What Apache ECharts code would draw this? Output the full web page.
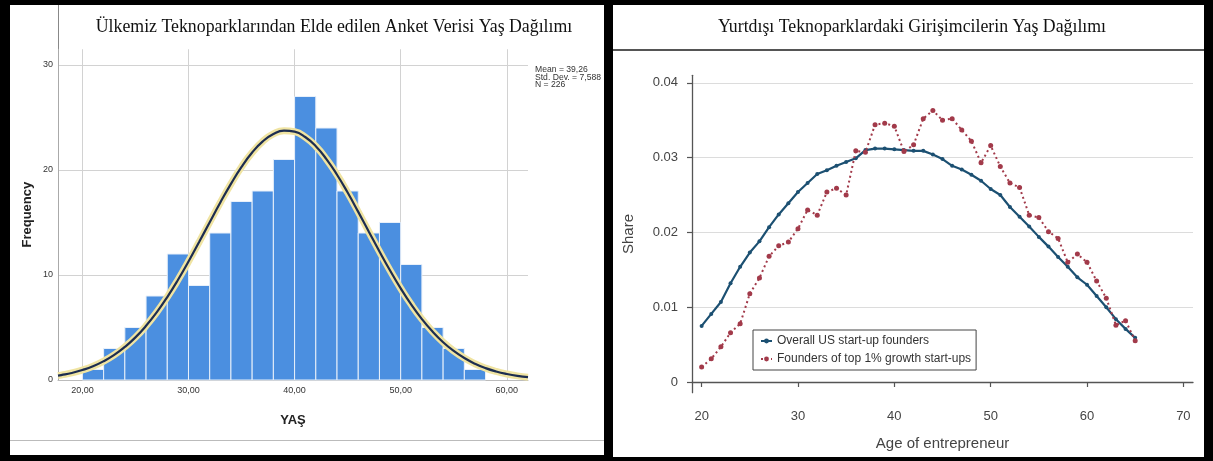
<!DOCTYPE html>
<html><head><meta charset="utf-8">
<script src="https://cdn.jsdelivr.net/npm/echarts@6/dist/echarts.min.js"></script>
<style>
html,body{margin:0;padding:0;background:#000;width:1213px;height:461px;overflow:hidden;}
.panel{position:absolute;background:#fff;}
.ln{position:absolute;}
#chart{position:absolute;left:0;top:0;width:1213px;height:461px;}
</style></head><body>
<div class="panel" style="left:10px;top:5px;width:594px;height:450px"></div>
<div class="panel" style="left:613px;top:5px;width:591px;height:452px"></div>
<div class="ln" style="left:58px;top:5px;width:1px;height:45px;background:#888"></div>
<div class="ln" style="left:10px;top:440px;width:594px;height:1px;background:#bbb"></div>
<div class="ln" style="left:613px;top:49px;width:591px;height:2px;background:#555"></div>
<div id="chart"></div>
<script>
// ---- Left: histogram of ages (YAŞ) ----
const binLo  = [20,22,24,26,28,30,32,34,36,38,40,42,44,46,48,50,52,54,56];
const binHi  = [22,24,26,28,30,32,34,36,38,40,42,44,46,48,50,52,54,56,58];
const counts = [1,3,5,8,12,9,14,17,18,21,27,24,18,14,15,11,5,3,1];
// normal curve
const curveX = [17.7,18,19,20,21,22,23,24,25,26,27,28,29,30,31,32,33,34,35,36,37,38,39,40,41,42,43,44,45,46,47,48,49,50,51,52,53,54,55,56,57,58,59,60,61,62];
const curveY = [0.42,0.47,0.67,0.95,1.31,1.79,2.39,3.15,4.06,5.16,6.44,7.90,9.52,11.28,13.14,15.03,16.91,18.68,20.30,21.66,22.73,23.43,23.75,23.65,23.14,22.26,21.04,19.55,17.85,16.01,14.12,12.24,10.43,8.73,7.18,5.80,4.61,3.60,2.77,2.09,1.55,1.13,0.81,0.57,0.39,0.27];
const xTicksLeft = [20,30,40,50,60];
const yTicksLeft = [0,10,20,30];
const statsLines = ['Mean = 39,26','Std. Dev. = 7,588','N = 226'];

// ---- Right: share by age of entrepreneur ----
const ages = [20,21,22,23,24,25,26,27,28,29,30,31,32,33,34,35,36,37,38,39,40,41,42,43,44,45,46,47,48,49,50,51,52,53,54,55,56,57,58,59,60,61,62,63,64,65];
const overallShare = [0.0075,0.0091,0.0107,0.0132,0.0154,0.0173,0.0188,0.0207,0.0224,0.0239,0.0254,0.0266,0.0278,0.0283,0.0289,0.0294,0.0299,0.0310,0.0312,0.0312,0.0311,0.0310,0.0309,0.0309,0.0304,0.0298,0.0289,0.0284,0.0277,0.0269,0.0258,0.0250,0.0234,0.0221,0.0208,0.0194,0.0181,0.0167,0.0154,0.0140,0.0130,0.0115,0.0100,0.0084,0.0071,0.0059];
const top1Share = [0.0020,0.0031,0.0047,0.0066,0.0078,0.0118,0.0139,0.0168,0.0182,0.0187,0.0205,0.0230,0.0223,0.0254,0.0259,0.0250,0.0309,0.0307,0.0344,0.0346,0.0342,0.0308,0.0317,0.0352,0.0363,0.0350,0.0352,0.0337,0.0322,0.0293,0.0316,0.0288,0.0266,0.0260,0.0223,0.0220,0.0201,0.0192,0.0160,0.0171,0.0160,0.0135,0.0112,0.0076,0.0082,0.0055];
const xTicksRight = [20,30,40,50,60,70];
const yTicksRight = [0,0.01,0.02,0.03,0.04];
const seriesNames = ['Overall US start-up founders','Founders of top 1% growth start-ups'];

const chart = echarts.init(document.getElementById('chart'), null, {renderer:'canvas'});
const SANS = 'Liberation Sans';
chart.setOption({
  backgroundColor: 'transparent',
  animation: false,
  title: [
    {text:'Ülkemiz Teknoparklarından Elde edilen Anket Verisi Yaş Dağılımı', left:334, top:18, textAlign:'center', padding:0,
     textStyle:{fontFamily:'Liberation Serif', fontSize:17.8, fontWeight:'normal', color:'#111'}},
    {text:'Yurtdışı Teknoparklardaki Girişimcilerin Yaş Dağılımı', left:912, top:18, textAlign:'center', padding:0,
     textStyle:{fontFamily:'Liberation Serif', fontSize:17.8, fontWeight:'normal', color:'#111'}},
    {text: statsLines.join('\n'), left:535, top:66, padding:0,
     textStyle:{fontFamily:SANS, fontSize:8.6, lineHeight:7.6, fontWeight:'normal', color:'#333'}}
  ],
  grid: [
    {left:58, top:49.25, width:470, height:330.75},
    {left:692, top:75.3, width:501, height:317.4}
  ],
  xAxis: [
    {gridIndex:0, type:'value', min:17.7, max:62,
     axisLine:{show:true, lineStyle:{color:'#bbb', width:1}},
     axisTick:{show:false, customValues:xTicksLeft},
     axisLabel:{customValues:xTicksLeft, formatter:v=>v.toFixed(2).replace('.',','), fontFamily:SANS, fontSize:9, color:'#333', margin:6},
     splitLine:{show:true, lineStyle:{color:'#d2d2d2', width:1}},
     name:'YAŞ', nameLocation:'middle', nameGap:34,
     nameTextStyle:{fontFamily:SANS, fontSize:13, fontWeight:'bold', color:'#222'}},
    {gridIndex:1, type:'value', min:19, max:71,
     axisLine:{show:true, lineStyle:{color:'#555', width:1.3}},
     axisTick:{show:true, customValues:xTicksRight, length:5, lineStyle:{color:'#555', width:1.2}},
     axisLabel:{customValues:xTicksRight, fontFamily:SANS, fontSize:13, color:'#444', margin:17},
     splitLine:{show:false},
     name:'Age of entrepreneur', nameLocation:'middle', nameGap:44,
     nameTextStyle:{fontFamily:SANS, fontSize:15, color:'#444'}}
  ],
  yAxis: [
    {gridIndex:0, type:'value', min:0, max:31.5,
     axisLine:{show:true, lineStyle:{color:'#aaa', width:1}},
     axisTick:{show:false, customValues:yTicksLeft},
     axisLabel:{customValues:yTicksLeft, fontFamily:SANS, fontSize:9, color:'#333', margin:5},
     splitLine:{show:true, lineStyle:{color:'#d2d2d2', width:1}},
     name:'Frequency', nameLocation:'middle', nameGap:24, nameRotate:90,
     nameTextStyle:{fontFamily:SANS, fontSize:13, fontWeight:'bold', color:'#222'}},
    {gridIndex:1, type:'value', min:-0.00143, max:0.041,
     axisLine:{show:true, lineStyle:{color:'#555', width:1.3}},
     axisTick:{show:true, customValues:yTicksRight, length:5, lineStyle:{color:'#555', width:1.2}},
     axisLabel:{customValues:yTicksRight, formatter:v=>v===0?'0':v.toFixed(2), fontFamily:SANS, fontSize:13, color:'#444', margin:14},
     splitLine:{show:true, lineStyle:{color:'#dcdcdc', width:1}},
     name:'Share', nameLocation:'middle', nameGap:56, nameRotate:90,
     nameTextStyle:{fontFamily:SANS, fontSize:15, color:'#444'}}
  ],
  legend: {
    data: seriesNames, orient:'vertical', left:753, top:330,
    backgroundColor:'#fff', borderColor:'#444', borderWidth:1, borderRadius:0,
    padding:[5,5,5,7], itemWidth:11, itemHeight:6, itemGap:6,
    textStyle:{fontFamily:SANS, fontSize:12, color:'#333'}
  },
  series: [
    {type:'custom', xAxisIndex:0, yAxisIndex:0, z:2,
     data: binLo.map((lo,i)=>[lo, binHi[i], counts[i]]),
     encode:{x:[0,1], y:2},
     renderItem:(params, api)=>{
       const p0 = api.coord([api.value(0), api.value(2)]);
       const p1 = api.coord([api.value(1), 0]);
       return {type:'rect', shape:{x:p0[0], y:p0[1], width:p1[0]-p0[0], height:p1[1]-p0[1]},
               style:{fill:'#4b8fe0', stroke:'#e8f0fa', lineWidth:1}};
     }},
    {type:'line', xAxisIndex:0, yAxisIndex:0, z:3, smooth:true, showSymbol:false, silent:true,
     data: curveX.map((x,i)=>[x, curveY[i]]),
     lineStyle:{color:'#f0e4a2', width:7}},
    {type:'line', xAxisIndex:0, yAxisIndex:0, z:4, smooth:true, showSymbol:false, silent:true,
     data: curveX.map((x,i)=>[x, curveY[i]]),
     lineStyle:{color:'#1d2d50', width:2.2}},
    {name:seriesNames[0], type:'line', xAxisIndex:1, yAxisIndex:1, z:5,
     data: ages.map((a,i)=>[a, overallShare[i]]),
     symbol:'circle', symbolSize:4, itemStyle:{color:'#1c5072'},
     lineStyle:{color:'#1c5072', width:2.2}},
    {name:seriesNames[1], type:'line', xAxisIndex:1, yAxisIndex:1, z:6,
     data: ages.map((a,i)=>[a, top1Share[i]]),
     symbol:'circle', symbolSize:5, itemStyle:{color:'#a23a4a'},
     lineStyle:{color:'#a23a4a', width:2, type:[2,3]}}
  ]
});
</script>
</body></html>
